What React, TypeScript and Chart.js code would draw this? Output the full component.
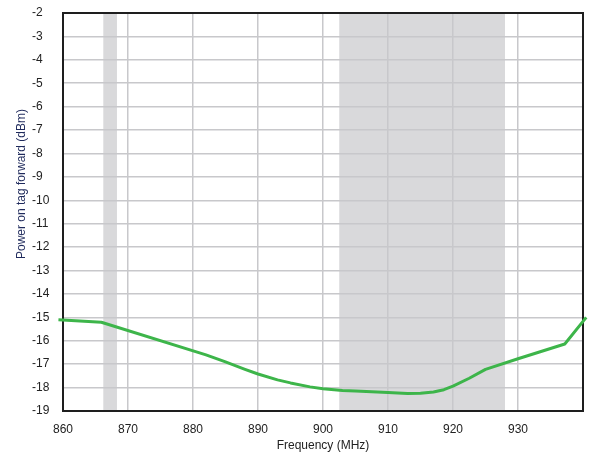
import React, { useEffect, useRef } from "react";
import { Chart, registerables } from "chart.js";

Chart.register(...registerables);

const frequencies = [859.3, 865.9, 882, 885, 888, 890, 893, 895, 898, 900, 903, 905, 910, 913, 915, 917, 918.6, 920, 922.5, 925, 930, 937.2, 940.5];
const powerValues = [-15.1, -15.21, -16.6, -16.9, -17.22, -17.42, -17.67, -17.8, -17.97, -18.05, -18.12, -18.15, -18.21, -18.25, -18.24, -18.19, -18.09, -17.94, -17.6, -17.22, -16.77, -16.14, -15.0];
const shadedBands = [
  [866.2, 868.3],
  [902.5, 928],
];
const xTickLabels = [860, 870, 880, 890, 900, 910, 920, 930];
const yTickLabels = [-2, -3, -4, -5, -6, -7, -8, -9, -10, -11, -12, -13, -14, -15, -16, -17, -18, -19];
const xTitle = "Frequency (MHz)";
const yTitle = "Power on tag forward (dBm)";

const FONT = "'Liberation Sans', Arial, sans-serif";

const bandsPlugin = {
  id: "bands",
  beforeDraw(chart: any) {
    const { ctx, chartArea, scales } = chart;
    const x = scales.x;
    ctx.save();
    ctx.fillStyle = "#d9d9db";
    for (const [a, b] of shadedBands) {
      const x1 = x.getPixelForValue(a);
      const x2 = x.getPixelForValue(b);
      ctx.fillRect(x1, chartArea.top, x2 - x1, chartArea.bottom - chartArea.top);
    }
    ctx.restore();
  },
  beforeDatasetsDraw(chart: any) {
    const { ctx, chartArea } = chart;
    ctx.save();
    ctx.strokeStyle = "#1e1e1e";
    ctx.lineWidth = 2;
    ctx.strokeRect(chartArea.left, chartArea.top, chartArea.right - chartArea.left, chartArea.bottom - chartArea.top);
    ctx.restore();
  },
  afterDraw(chart: any) {
    const { ctx } = chart;
    ctx.save();
    ctx.translate(22, 184);
    ctx.rotate(-Math.PI / 2);
    ctx.fillStyle = "#1f2a5c";
    ctx.font = `12px ${FONT}`;
    ctx.textAlign = "center";
    ctx.textBaseline = "middle";
    ctx.fillText(yTitle, 0, 0);
    ctx.restore();
  },
};

export default function App() {
  const ref = useRef<HTMLCanvasElement | null>(null);

  useEffect(() => {
    if (!ref.current) return;
    const chart = new Chart(ref.current, {
      type: "line",
      data: {
        datasets: [
          {
            data: frequencies.map((f, i) => ({ x: f, y: powerValues[i] })),
            borderColor: "#3db54a",
            borderWidth: 3,
            pointRadius: 0,
            tension: 0,
            borderJoinStyle: "round",
            clip: false as any,
          },
        ],
      },
      options: {
        animation: false,
        responsive: true,
        maintainAspectRatio: false,
        layout: { padding: { left: 32, right: 9, top: 13, bottom: 0 } },
        plugins: { legend: { display: false }, tooltip: { enabled: false } },
        scales: {
          x: {
            type: "linear",
            min: 860,
            max: 940,
            afterFit: (s: any) => {
              s.height = 42;
            },
            afterBuildTicks: (s: any) => {
              s.ticks = [...xTickLabels, 940].map((v) => ({ value: v }));
            },
            ticks: {
              callback: (v: any) => (xTickLabels.includes(Number(v)) ? String(v) : ""),
              font: { family: FONT, size: 12 },
              color: "#222",
              padding: 6,
              maxRotation: 0,
            },
            grid: { color: "#c8c8cb", lineWidth: 1.5, drawTicks: true, tickLength: 5, tickColor: "rgba(0,0,0,0)" },
            border: { display: true, color: "#1e1e1e", width: 2 },
            title: {
              display: true,
              text: xTitle,
              font: { family: FONT, size: 12 },
              color: "#222",
              padding: { top: 1, bottom: 0 },
            },
          },
          y: {
            type: "linear",
            min: -19,
            max: -2,
            afterFit: (s: any) => {
              s.width = 31;
            },
            afterBuildTicks: (s: any) => {
              s.ticks = [...yTickLabels].reverse().map((v) => ({ value: v }));
            },
            ticks: {
              crossAlign: "far",
              font: { family: FONT, size: 12 },
              color: "#222",
              padding: 4,
            },
            grid: { color: "#c8c8cb", lineWidth: 1.5, drawTicks: false },
            border: { display: true, color: "#1e1e1e", width: 2 },
          },
        },
      },
      plugins: [bandsPlugin],
    });
    return () => chart.destroy();
  }, []);

  return (
    <div style={{ position: "absolute", left: 0, top: 0, width: 592, height: 453, background: "#fff" }}>
      <canvas ref={ref} />
    </div>
  );
}
